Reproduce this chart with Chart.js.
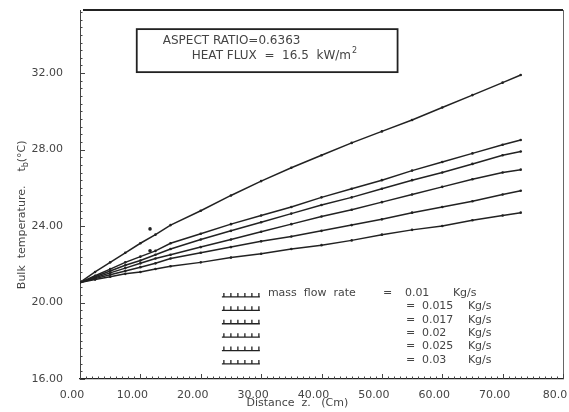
<!DOCTYPE html>
<html>
<head>
<meta charset="utf-8">
<script src="https://cdn.jsdelivr.net/npm/chart.js@4.4.0/dist/chart.umd.min.js"></script>
<style>
  html, body { margin: 0; padding: 0; background: #fff; }
  #wrap { width: 569px; height: 412px; }
</style>
</head>
<body>
<div id="wrap"><canvas id="chart" width="569" height="412"></canvas></div>
<script>
// Distance along the channel (cm) where the curves are read
const distance = [0, 2.5, 5, 7.5, 10, 12.5, 15, 20, 25, 30, 35, 40, 45, 50, 55, 60, 65, 70, 73];

// Bulk temperature (deg C), one array per mass flow rate
const flow001  = [21.05, 21.6, 22.1, 22.6, 23.1, 23.55, 24.05, 24.8, 25.6, 26.35, 27.05, 27.7, 28.35, 28.95, 29.55, 30.2, 30.85, 31.5, 31.9];
const flow0015 = [21.05, 21.4, 21.75, 22.1, 22.4, 22.7, 23.1, 23.6, 24.1, 24.55, 25.0, 25.5, 25.95, 26.4, 26.9, 27.35, 27.8, 28.25, 28.5];
const flow0017 = [21.05, 21.35, 21.65, 21.95, 22.2, 22.5, 22.8, 23.3, 23.75, 24.2, 24.65, 25.1, 25.5, 25.95, 26.4, 26.8, 27.25, 27.7, 27.9];
const flow002  = [21.05, 21.3, 21.55, 21.8, 22.05, 22.3, 22.5, 22.9, 23.3, 23.7, 24.1, 24.5, 24.85, 25.25, 25.65, 26.05, 26.45, 26.8, 26.95];
const flow0025 = [21.05, 21.25, 21.45, 21.65, 21.85, 22.05, 22.3, 22.6, 22.9, 23.2, 23.45, 23.75, 24.05, 24.35, 24.7, 25.0, 25.3, 25.65, 25.85];
const flow003  = [21.05, 21.2, 21.35, 21.5, 21.6, 21.75, 21.9, 22.1, 22.35, 22.55, 22.8, 23.0, 23.25, 23.55, 23.8, 24.0, 24.3, 24.55, 24.7];

const flowSeries = [flow001, flow0015, flow0017, flow002, flow0025, flow003];
const flowLabels = ['0.01', '0.015', '0.017', '0.02', '0.025', '0.03'];

// loose measured points off the curves
const strayX = [11.6, 11.6];
const strayY = [23.85, 22.71];

const xTicks = [0, 10, 20, 30, 40, 50, 60, 70, 80];
const yTicks = [16, 20, 24, 28, 32];

const ink = '#222';
const textInk = '#444';
const plotFont = 'DejaVu Sans';

// frame, minor ticks, note box, legend and axis titles
const decorations = {
    id: 'decorations',
    afterDraw(chart) {
        const { ctx, chartArea: a, scales: { x, y } } = chart;
        ctx.save();

        // top and right frame
        ctx.strokeStyle = ink;
        ctx.lineWidth = 2;
        ctx.beginPath();
        ctx.moveTo(a.left + 3, a.top);
        ctx.lineTo(a.right, a.top);
        ctx.stroke();
        ctx.lineWidth = 1;
        ctx.strokeStyle = '#666';
        ctx.beginPath();
        ctx.moveTo(a.right + 0.5, a.top);
        ctx.lineTo(a.right + 0.5, a.bottom);
        ctx.stroke();

        // minor / major ticks pointing inward
        ctx.strokeStyle = textInk;
        ctx.lineWidth = 1;
        ctx.beginPath();
        for (let i = 0; i <= 80; i++) {
            const px = Math.round(x.getPixelForValue(i)) + 0.5;
            const len = i % 10 === 0 ? 5 : 2.5;
            ctx.moveTo(px, a.bottom);
            ctx.lineTo(px, a.bottom - len);
        }
        for (let i = 0; i <= 48; i++) {
            const v = 16 + i * 0.4;
            const py = Math.round(y.getPixelForValue(v)) + 0.5;
            const len = i % 10 === 0 ? 5 : 2.5;
            ctx.moveTo(a.left, py);
            ctx.lineTo(a.left + len, py);
        }
        ctx.stroke();

        // note box
        const bx0 = x.getPixelForValue(9.4), bx1 = x.getPixelForValue(52.6);
        const by0 = y.getPixelForValue(34.3), by1 = y.getPixelForValue(32.05);
        ctx.strokeStyle = ink;
        ctx.lineWidth = 1.8;
        ctx.strokeRect(bx0, by0, bx1 - bx0, by1 - by0);
        ctx.fillStyle = textInk;
        ctx.font = `12px "${plotFont}"`;
        ctx.textBaseline = 'middle';
        ctx.textAlign = 'left';
        ctx.fillText('ASPECT RATIO=0.6363', bx0 + 26, by0 + 12);
        ctx.fillText('HEAT FLUX  =  16.5  kW/m', bx0 + 55, by0 + 27);
        const wHeat = ctx.measureText('HEAT FLUX  =  16.5  kW/m').width;
        ctx.font = `8px "${plotFont}"`;
        ctx.fillText('2', bx0 + 55 + wHeat + 1, by0 + 22);

        // legend
        const lx = x.getPixelForValue(23.5);
        const ly = y.getPixelForValue(20.5);
        const rowH = 13.4;
        ctx.font = `11px "${plotFont}"`;
        flowLabels.forEach((lab, i) => {
            const ry = ly + i * rowH;
            ctx.strokeStyle = ink;
            ctx.lineWidth = 1.3;
            ctx.beginPath();
            ctx.moveTo(lx, ry + 4);
            ctx.lineTo(lx + 38, ry + 4);
            for (let k = 0; k < 6; k++) {
                ctx.moveTo(lx + 2 + k * 7, ry + 4);
                ctx.lineTo(lx + 2 + k * 7, ry);
            }
            ctx.stroke();
            ctx.fillStyle = textInk;
            if (i === 0) {
                ctx.fillText('mass  flow  rate', lx + 46, ry);
                ctx.fillText('=', lx + 161, ry);
                ctx.fillText(lab, lx + 183, ry);
                ctx.fillText('Kg/s', lx + 231, ry);
            } else {
                ctx.fillText('=', lx + 184, ry);
                ctx.fillText(lab, lx + 200, ry);
                ctx.fillText('Kg/s', lx + 246, ry);
            }
        });

        // x title
        ctx.font = `11px "${plotFont}"`;
        ctx.textAlign = 'center';
        ctx.fillText('Distance  z.   (Cm)', a.left + (a.right - a.left) * 0.45, a.bottom + 24);

        // y title with subscript
        ctx.translate(22, a.top + (a.bottom - a.top) * 0.555);
        ctx.rotate(-Math.PI / 2);
        const part1 = 'Bulk  temperature.    t';
        const part3 = '(°C)';
        ctx.font = `11px "${plotFont}"`;
        const w1 = ctx.measureText(part1).width;
        const w3 = ctx.measureText(part3).width;
        ctx.font = `8px "${plotFont}"`;
        const w2 = ctx.measureText('b').width;
        let start = -(w1 + w2 + w3) / 2;
        ctx.textAlign = 'left';
        ctx.font = `11px "${plotFont}"`;
        ctx.fillText(part1, start, 0);
        ctx.font = `8px "${plotFont}"`;
        ctx.fillText('b', start + w1, 4);
        ctx.font = `11px "${plotFont}"`;
        ctx.fillText(part3, start + w1 + w2, 0);

        ctx.restore();
    }
};

const datasets = flowSeries.map((series, idx) => ({
    label: flowLabels[idx] + ' Kg/s',
    data: distance.map((d, i) => ({ x: d, y: series[i] })),
    borderColor: ink,
    backgroundColor: ink,
    borderWidth: 1.5,
    pointRadius: 1.3,
    pointBorderWidth: 0,
    pointBackgroundColor: ink,
    tension: 0,
    fill: false
}));

datasets.push({
    type: 'scatter',
    label: 'stray',
    data: strayX.map((v, i) => ({ x: v, y: strayY[i] })),
    pointRadius: 1.8,
    pointBackgroundColor: ink,
    pointBorderWidth: 0,
    showLine: false
});

const ctx = document.getElementById('chart').getContext('2d');
new Chart(ctx, {
    type: 'line',
    data: { datasets },
    plugins: [decorations],
    options: {
        responsive: false,
        animation: false,
        layout: { padding: { top: 10, right: 6, left: 0, bottom: 0 } },
        plugins: {
            legend: { display: false },
            tooltip: { enabled: false },
            title: { display: false }
        },
        scales: {
            x: {
                type: 'linear',
                min: 0,
                max: 80,
                afterBuildTicks: (axis) => { axis.ticks = xTicks.map(v => ({ value: v })); },
                afterFit: (axis) => { axis.height = 33; axis.paddingLeft = 0; axis.paddingRight = 0; },
                grid: { display: false },
                border: { display: true, color: ink, width: 1.2 },
                ticks: {
                    color: textInk,
                    font: { family: plotFont, size: 11 },
                    padding: 2,
                    labelOffset: -8,
                    maxRotation: 0,
                    autoSkip: false,
                    callback: (v) => v === 80 ? '80.0' : v.toFixed(2)
                }
            },
            y: {
                type: 'linear',
                min: 16,
                max: 35.3,
                afterBuildTicks: (axis) => { axis.ticks = yTicks.map(v => ({ value: v })); },
                afterFit: (axis) => { axis.width = 80; axis.paddingTop = 0; axis.paddingBottom = 0; },
                grid: { display: false },
                border: { display: true, color: textInk, width: 1, dash: [1.5, 1.5] },
                ticks: {
                    color: textInk,
                    font: { family: plotFont, size: 11 },
                    padding: 9,
                    autoSkip: false,
                    callback: (v) => v.toFixed(2)
                }
            }
        }
    }
});
</script>
</body>
</html>
